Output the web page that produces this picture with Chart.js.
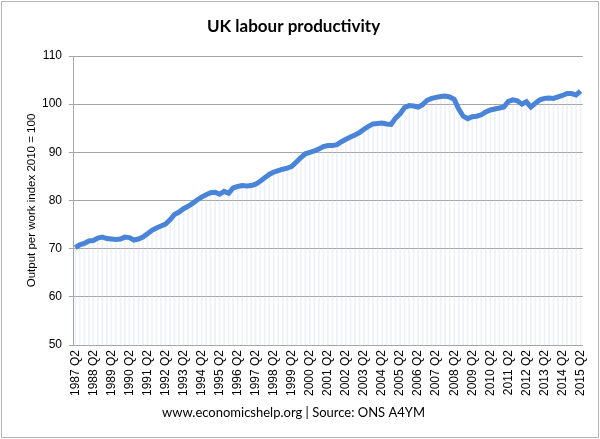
<!DOCTYPE html>
<html>
<head>
<meta charset="utf-8">
<script src="https://cdn.jsdelivr.net/npm/chart.js@4.4.1/dist/chart.umd.min.js"></script>
<style>
  html, body { margin: 0; padding: 0; background: #fff; }
  #wrap { width: 600px; height: 439px; position: relative; }
</style>
</head>
<body>
<div id="wrap"><canvas id="productivityChart"></canvas></div>
<script>
// Output per worker index (2010 = 100), quarterly 1987 Q2 .. 2015 Q2
const productivity = [
  70.2, 70.8, 71.1, 71.6, 71.7, 72.2, 72.4, 72.1,   // 1987 Q2 - 1989 Q1
  72.0, 71.9, 72.0, 72.4, 72.3, 71.8, 72.0, 72.4,   // 1989 Q2 - 1991 Q1
  73.1, 73.8, 74.3, 74.7, 75.1, 76.0, 77.1, 77.6,   // 1991 Q2 - 1993 Q1
  78.3, 78.8, 79.4, 80.1, 80.7, 81.2, 81.6, 81.7,   // 1993 Q2 - 1995 Q1
  81.3, 81.9, 81.5, 82.6, 82.9, 83.1, 83.0, 83.1,   // 1995 Q2 - 1997 Q1
  83.4, 84.0, 84.7, 85.4, 85.9, 86.2, 86.5, 86.7,   // 1997 Q2 - 1999 Q1
  87.1, 88.0, 88.9, 89.7, 90.0, 90.3, 90.7, 91.2,   // 1999 Q2 - 2001 Q1
  91.4, 91.4, 91.6, 92.2, 92.7, 93.2, 93.6, 94.1,   // 2001 Q2 - 2003 Q1
  94.8, 95.4, 95.9, 96.0, 96.1, 95.9, 95.8, 97.1,   // 2003 Q2 - 2005 Q1
  98.0, 99.3, 99.7, 99.6, 99.4, 99.9, 100.8, 101.2, // 2005 Q2 - 2007 Q1
  101.4, 101.6, 101.7, 101.5, 101.0, 99.0, 97.5, 97.0, // 2007 Q2 - 2009 Q1
  97.4, 97.5, 97.8, 98.4, 98.8, 99.0, 99.2, 99.4,   // 2009 Q2 - 2011 Q1
  100.6, 100.9, 100.7, 100.0, 100.5, 99.4, 100.2, 100.9, // 2011 Q2 - 2013 Q1
  101.2, 101.3, 101.2, 101.5, 101.8, 102.2, 102.2, 101.9, // 2013 Q2 - 2015 Q1
  102.7                                             // 2015 Q2
];

const firstYear = 1987;
const firstQuarter = 2;
const yTicks = [50, 60, 70, 80, 90, 100, 110];

// one category per quarter
const quarters = [];
let yr = firstYear, qt = firstQuarter;
while (quarters.length < productivity.length) {
  quarters.push(yr + ' Q' + qt);
  qt++;
  if (qt > 4) { qt = 1; yr++; }
}
const tickLabels = quarters.filter(q => q.endsWith('Q2'));

const chartFrame = {
  id: 'chartFrame',
  beforeDraw(chart) {
    const ctx = chart.ctx;
    ctx.save();
    ctx.fillStyle = '#fff';
    ctx.fillRect(0, 0, chart.width, chart.height);
    ctx.restore();
  },
  afterDraw(chart) {
    const ctx = chart.ctx;
    ctx.save();
    ctx.strokeStyle = '#b5b5b5';
    ctx.lineWidth = 1;
    ctx.strokeRect(1.5, 1.5, chart.width - 3, chart.height - 3);
    ctx.restore();
  }
};

const axisFont = { family: 'Liberation Sans, Arial, sans-serif', size: 12 };

new Chart(document.getElementById('productivityChart'), {
  data: {
    labels: quarters,
    datasets: [{
      type: 'line',
      data: productivity,
      borderColor: '#4a84d8',
      borderWidth: 5,
      pointRadius: 0,
      tension: 0,
      order: 1
    }, {
      // faint drop lines under the curve
      type: 'bar',
      data: productivity,
      backgroundColor: 'rgba(195, 208, 233, 0.3)',
      barThickness: 1,
      order: 2
    }]
  },
  options: {
    responsive: true,
    maintainAspectRatio: false,
    animation: false,
    layout: { padding: { left: 0, right: 13, top: 0, bottom: 0 } },
    plugins: {
      legend: { display: false },
      tooltip: { enabled: false },
      title: {
        display: true,
        text: 'UK labour productivity',
        color: '#000',
        font: { family: 'Lato, sans-serif', size: 17, weight: 'bold' },
        padding: { top: 16, bottom: 19.6 }
      },
      subtitle: {
        display: true,
        position: 'bottom',
        text: 'www.economicshelp.org | Source: ONS A4YM',
        color: '#000',
        font: { family: 'Lato, sans-serif', size: 13 },
        padding: { top: 5, bottom: 18.4 }
      }
    },
    scales: {
      x: {
        offset: true,
        grid: { display: false, drawTicks: false },
        border: { display: true, color: '#a6a6a6', width: 1 },
        ticks: {
          autoSkip: false,
          minRotation: 90,
          maxRotation: 90,
          padding: 5,
          color: '#000',
          font: axisFont,
          callback: function (value, index) {
            const lab = quarters[index];
            return tickLabels.includes(lab) ? lab : '';
          }
        },
        afterFit(scale) { scale.height = 55; }
      },
      y: {
        min: yTicks[0],
        max: yTicks[yTicks.length - 1],
        grid: { color: '#a6a6a6', tickLength: 4 },
        border: { display: true, color: '#a6a6a6', width: 1 },
        afterBuildTicks(scale) { scale.ticks = yTicks.map(v => ({ value: v })); },
        ticks: { color: '#000', font: axisFont, padding: 7 },
        title: {
          display: true,
          text: 'Output per work index 2010 = 100',
          color: '#000',
          font: { family: 'Liberation Sans, Arial, sans-serif', size: 11.5 },
          padding: { top: 25, bottom: 0 }
        },
        afterFit(scale) { scale.width = 73; }
      }
    }
  },
  plugins: [chartFrame]
});
</script>
</body>
</html>
